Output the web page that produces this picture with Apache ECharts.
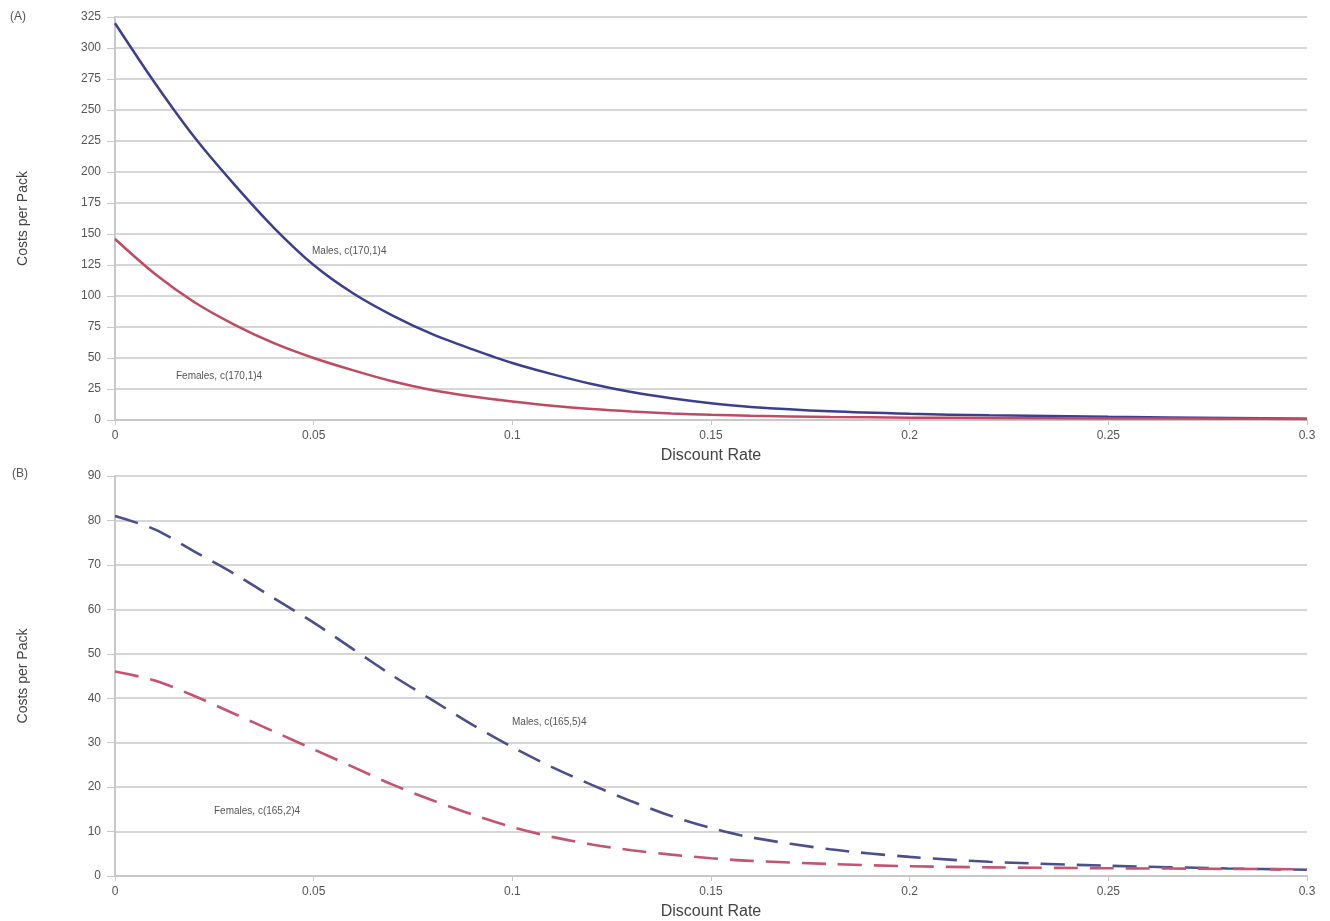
<!DOCTYPE html>
<html>
<head>
<meta charset="utf-8">
<script src="https://cdn.jsdelivr.net/npm/echarts@6/dist/echarts.min.js"></script>
<style>
html,body{margin:0;padding:0;background:#fff;overflow:hidden;}
#chart{width:1330px;height:921px;}
</style>
</head>
<body>
<div id="chart"></div>
<script>
// Discount rates (x values)
const rates = [0, 0.01, 0.02, 0.03, 0.04, 0.05, 0.06, 0.07, 0.08, 0.09, 0.10, 0.11, 0.12, 0.13, 0.14, 0.15, 0.16, 0.18, 0.20, 0.22, 0.25, 0.28, 0.30];
// Panel A (solid)
const malesA   = [320, 272, 228, 190, 155, 125, 102, 84, 69, 57, 46, 37, 29, 22.5, 17.5, 13.5, 10.5, 7, 5, 3.8, 2.6, 1.6, 1];
const femalesA = [146, 118, 95, 77, 62, 50, 40, 31, 24, 19, 15, 11.5, 8.8, 6.8, 5.3, 4.2, 3.4, 2.5, 1.9, 1.6, 1.3, 1, 0.8];
// Panel B (dashed)
const malesB   = [81, 78, 73, 68, 62.5, 57, 51, 45, 39.5, 34, 29, 24.5, 20.5, 16.8, 13.5, 10.8, 8.7, 6, 4.3, 3.2, 2.3, 1.7, 1.4];
const femalesB = [46, 44, 40.5, 36.5, 32.5, 28.5, 24.5, 20.5, 17, 13.8, 11, 8.8, 7.1, 5.8, 4.8, 4, 3.4, 2.7, 2.2, 1.95, 1.75, 1.6, 1.5];
// Axis ticks
const xTicks = ['0', '0.05', '0.1', '0.15', '0.2', '0.25', '0.3'];
const labels = {
  malesA: 'Males, c(170,1)4',
  femalesA: 'Females, c(170,1)4',
  malesB: 'Males, c(165,5)4',
  femalesB: 'Females, c(165,2)4'
};

const pairs = (ys) => rates.map((r, i) => [r, ys[i]]);
const FONT = 'Liberation Sans, Arial, sans-serif';
const textCol = '#555';
const gridCol = '#d6d6d6';

function xAxis(gridIndex) {
  return {
    type: 'value', gridIndex, min: 0, max: 0.3, interval: 0.05,
    name: 'Discount Rate', nameLocation: 'middle', nameGap: 28,
    nameTextStyle: { fontFamily: FONT, fontSize: 16, color: '#444' },
    axisLine: { show: true, lineStyle: { color: '#c8c8c8', width: 2 } },
    axisTick: { show: true, length: 5, lineStyle: { color: '#c8c8c8' } },
    splitLine: { show: false },
    axisLabel: {
      fontFamily: FONT, fontSize: 12, color: textCol, margin: 10,
      formatter: (v) => { const idx = Math.round(v / 0.05); return xTicks[idx] !== undefined ? xTicks[idx] : ''; }
    }
  };
}
function yAxis(gridIndex, max, interval) {
  return {
    type: 'value', gridIndex, min: 0, max, interval,
    name: 'Costs per Pack', nameLocation: 'middle', nameGap: 85, nameRotate: 90,
    nameTextStyle: { fontFamily: FONT, fontSize: 14, color: '#444' },
    axisLine: { show: true, lineStyle: { color: '#c8c8c8', width: 2 } },
    axisTick: { show: true, length: 8, lineStyle: { color: '#c8c8c8' } },
    splitLine: { show: true, lineStyle: { color: gridCol, width: 2 } },
    axisLabel: { fontFamily: FONT, fontSize: 12, color: textCol, margin: 14 }
  };
}
function line(name, data, xi, color, dashed) {
  return {
    name, type: 'line', xAxisIndex: xi, yAxisIndex: xi, data: pairs(data),
    smooth: 0.3, showSymbol: false, symbol: 'none',
    lineStyle: { color, width: dashed ? 2.6 : 2.5, type: dashed ? [24, 12] : 'solid' },
    z: 3
  };
}

const chart = echarts.init(document.getElementById('chart'));
chart.setOption({
  backgroundColor: '#fff',
  animation: false,
  grid: [
    { left: 115, right: 23, top: 17, height: 403 },
    { left: 115, right: 23, top: 476, height: 404 }
  ],
  xAxis: [xAxis(0), xAxis(1)],
  yAxis: [yAxis(0, 325, 25), yAxis(1, 90, 10)],
  series: [
    line('Males A', malesA, 0, '#3c3f8e', false),
    line('Females A', femalesA, 0, '#c04a62', false),
    line('Males B', malesB, 1, '#4b4f8c', true),
    line('Females B', femalesB, 1, '#c45470', true)
  ],
  graphic: [
    { type: 'text', left: 10, top: 11, style: { text: '(A)', font: '12px ' + FONT, fill: textCol } },
    { type: 'text', left: 12, top: 468, style: { text: '(B)', font: '12px ' + FONT, fill: textCol } },
    { type: 'text', left: 312, top: 246, style: { text: labels.malesA, font: '10px ' + FONT, fill: '#555' } },
    { type: 'text', left: 176, top: 371, style: { text: labels.femalesA, font: '10px ' + FONT, fill: '#555' } },
    { type: 'text', left: 512, top: 717, style: { text: labels.malesB, font: '10px ' + FONT, fill: '#555' } },
    { type: 'text', left: 214, top: 806, style: { text: labels.femalesB, font: '10px ' + FONT, fill: '#555' } }
  ]
});
</script>
</body>
</html>
